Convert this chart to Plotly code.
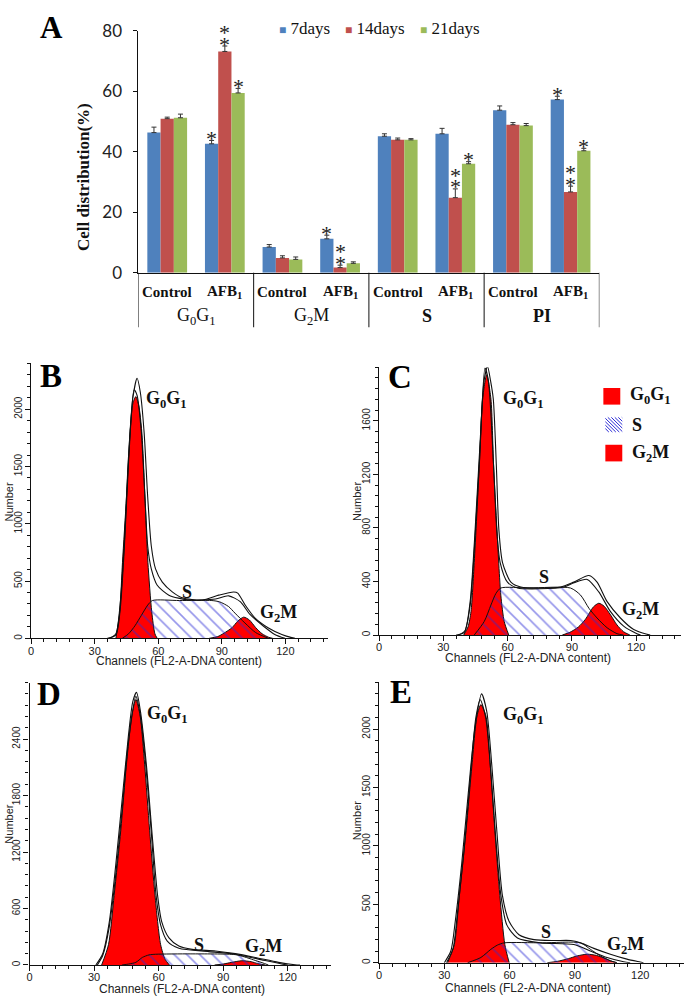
import plotly.graph_objects as go

W, H = 685, 1007
def fx(p): return p / W
def fy(p): return 1 - p / H

SERIF = "Liberation Serif"
SANS = "Liberation Sans"

# ---------------- Panel A data ----------------
sub_labels = ["Control", "AFB<sub>1</sub>", "Control", "AFB<sub>1</sub>",
              "Control", "AFB<sub>1</sub>", "Control", "AFB<sub>1</sub>"]
group_labels = ["G<sub>0</sub>G<sub>1</sub>", "G<sub>2</sub>M", "<b>S</b>", "<b>PI</b>"]
series_names = ["7days", "14days", "21days"]
series_colors = ["#4F81BD", "#C0504D", "#9BBB59"]
vals_7 = [46.3, 42.6, 8.5, 11.2, 45.1, 45.9, 53.7, 57.2]
vals_14 = [50.9, 73.1, 4.9, 1.7, 43.9, 24.8, 48.9, 26.7]
vals_21 = [51.2, 59.4, 4.4, 3.1, 43.9, 36.0, 48.6, 40.3]
err_7 = [1.8, 1.1, 0.8, 1.2, 0.8, 1.8, 1.4, 1.1]
err_14 = [0.5, 1.8, 0.7, 0.8, 0.6, 2.9, 0.7, 1.9]
err_21 = [1.2, 1.5, 0.8, 0.5, 0.4, 0.7, 0.7, 0.8]
sig_7 = ["", "*", "", "*", "", "", "", "*"]
sig_14 = ["", "**", "", "**", "", "**", "", "**"]
sig_21 = ["", "*", "", "", "", "*", "", "*"]
y_ticks_A = [0, 20, 40, 60, 80]

# ---------------- Histogram data (channel, count) ----------------
# Panel B
b_g1_ch = [40, 41.8, 43.1, 45, 46.7, 48, 49.4, 50.8, 52.2, 53.7, 55.1, 56.9, 58.4, 59.5]
b_g1_n = [0, 234, 663, 1234, 1805, 2050, 2110, 2030, 1805, 1234, 663, 234, 40, 0]
b_s_ch = [43, 46, 49, 52, 55, 57.2, 70, 85.3, 89, 93.2, 96.2, 100.9, 106, 112]
b_s_n = [0, 40, 110, 200, 290, 330, 330, 330, 318, 277, 220, 134, 50, 0]
b_g2_ch = [84, 88, 91, 94.8, 97.5, 100.3, 103, 106, 109, 112, 114]
b_g2_n = [0, 15, 45, 93, 150, 185, 160, 93, 40, 10, 0]
b_t1_ch = [36, 40, 42, 44, 46, 48, 50, 51.5, 53.3, 55, 56.7, 58.7, 61.9, 66.6, 71.3, 80.7, 88.5, 95.6, 97.5, 101, 105.7, 112, 118.3, 123, 124.5]
b_t1_n = [0, 30, 250, 800, 1550, 2100, 2270, 2150, 1800, 1234, 806, 606, 491, 406, 354, 334, 377, 405, 395, 291, 177, 91, 34, 6, 0]
b_t2_ch = [37, 40, 42, 44, 46, 48.6, 50, 52, 53.7, 55, 56.7, 59.5, 65, 74.4, 87, 93.2, 98.7, 103.4, 109.7, 115, 119.8]
b_t2_n = [0, 40, 300, 850, 1600, 2170, 2120, 1800, 1234, 806, 606, 463, 377, 334, 343, 371, 320, 206, 106, 34, 0]
b_yticks = [0, 500, 1000, 1500, 2000]

# Panel C
c_g1_ch = [39.5, 41.5, 42.9, 44.4, 46.8, 48.3, 50.2, 52.2, 53.4, 55, 56.8, 58.4, 60.5]
c_g1_n = [0, 60, 176, 541, 1273, 1761, 1944, 1761, 1273, 785, 298, 100, 0]
c_s_ch = [44.4, 49.1, 52.2, 54.5, 56.8, 70, 89.3, 94, 97.9, 101.7, 106.4, 111, 114]
c_s_n = [0, 102, 224, 310, 351, 351, 351, 298, 200, 127, 54, 10, 0]
c_g2_ch = [85.5, 89, 93, 96.3, 100, 102.5, 105, 108, 111, 114, 117]
c_g2_n = [0, 20, 60, 118, 210, 237, 215, 150, 75, 25, 0]
c_t1_ch = [36, 39.8, 42.5, 44.5, 47, 49, 50.6, 52, 53.3, 54.7, 55.9, 57.6, 61.5, 66.1, 75.4, 84.7, 90.9, 97.9, 101.7, 106.4, 112.6, 118.8, 125, 126.5]
c_t1_n = [0, 20, 250, 700, 1400, 1900, 2005, 1900, 1761, 1273, 785, 541, 395, 358, 351, 358, 395, 444, 395, 249, 127, 41, 5, 0]
c_t2_ch = [37, 40, 42.5, 44.5, 47, 49.4, 51, 53.4, 54.9, 56.5, 59.9, 64.6, 75, 86.2, 91, 97.1, 102.5, 107.9, 114.1, 120.3, 122]
c_t2_n = [0, 30, 220, 650, 1350, 1993, 1900, 1273, 785, 541, 395, 351, 345, 358, 390, 415, 322, 176, 66, 10, 0]
c_yticks = [0, 400, 800, 1200, 1600]

# Panel D
d_g1_ch = [33.5, 36.7, 39.3, 42.4, 45, 47.5, 49.4, 51.4, 53.5, 55.8, 58.3, 60.9, 63, 65]
d_g1_n = [0, 218, 739, 1432, 2126, 2646, 2820, 2646, 2126, 1432, 739, 218, 60, 0]
d_s_ch = [43, 46, 49.4, 52.4, 55.5, 58.6, 75, 95.6, 100, 104, 108, 111]
d_s_n = [0, 10, 28, 80, 107, 114, 118, 110, 85, 55, 25, 0]
d_g2_ch = [86, 90, 94, 98.7, 103, 106, 109.5]
d_g2_n = [0, 10, 28, 45, 35, 15, 0]
d_t1_ch = [30.8, 34, 37, 40, 43, 46, 48, 49.7, 51.5, 54.3, 56.8, 59.5, 61.4, 64.8, 69.4, 75.6, 86.4, 95.6, 104.9, 115.7, 123.4, 125.7]
d_t1_n = [0, 120, 450, 1050, 1750, 2450, 2800, 2896, 2700, 2126, 1432, 739, 461, 288, 201, 166, 149, 121, 80, 28, 3, 0]
d_t2_ch = [31.5, 34, 37, 40, 43, 46, 49.4, 51.5, 54, 56.5, 58.8, 60.9, 64, 69.4, 83.3, 95.6, 106.4, 117.2, 120]
d_t2_n = [0, 100, 400, 950, 1650, 2380, 2854, 2650, 2126, 1432, 739, 426, 253, 177, 142, 114, 62, 10, 0]
d_yticks = [0, 600, 1200, 1800, 2400]

# Panel E
e_g1_ch = [31.5, 34.6, 36.9, 40, 42.7, 45, 46.8, 49.1, 51.1, 53.2, 55.5, 57.8, 59.8]
e_g1_n = [0, 156, 575, 1134, 1693, 2112, 2209, 2112, 1693, 1134, 575, 156, 0]
e_s_ch = [40.7, 46.8, 51.4, 54.4, 57.5, 75, 92.6, 97.1, 101.7, 106.3, 109.3]
e_s_n = [0, 45, 115, 151, 170, 170, 170, 115, 59, 17, 0]
e_g2_ch = [77.3, 82, 87, 91, 95.6, 100, 104, 107, 109.3]
e_g2_n = [0, 12, 35, 58, 73, 62, 35, 12, 0]
e_t1_ch = [30, 33, 35, 38, 41, 44, 47.1, 49.5, 51.8, 54.1, 56.7, 59.8, 64.3, 71.2, 80.4, 88, 92.6, 98.7, 106.3, 113.9, 120, 121.5]
e_t1_n = [0, 100, 350, 850, 1450, 2000, 2301, 2150, 1693, 1134, 575, 352, 240, 198, 190, 190, 170, 123, 73, 31, 6, 0]
e_t2_ch = [31, 34, 36, 39, 42, 44.5, 46.5, 49, 51.5, 53.5, 56, 58.7, 63.6, 74.3, 89.5, 97.1, 104.8, 112.4, 115.4]
e_t2_n = [0, 120, 420, 950, 1600, 2100, 2251, 2100, 1600, 1100, 575, 324, 212, 170, 156, 100, 45, 8, 0]
e_yticks = [0, 500, 1000, 1500, 2000]

x_ticks_hist = [0, 30, 60, 90, 120]

fig = go.Figure()

# ---------------- Panel A ----------------
BARGAP = 0.31
bar_w = (1 - BARGAP) / 3
xpos = list(range(len(sub_labels)))
all_vals = [vals_7, vals_14, vals_21]
all_errs = [err_7, err_14, err_21]
all_sigs = [sig_7, sig_14, sig_21]
for i in range(3):
    fig.add_trace(go.Bar(
        x=xpos, y=all_vals[i], name=series_names[i], marker_color=series_colors[i],
        marker_line_width=0, showlegend=False, xaxis="x", yaxis="y",
        error_y=dict(type="data", array=all_errs[i], arrayminus=[0] * 8, symmetric=False,
                     color="#333333", thickness=1, width=2.5)))

annotations = []
shapes = []

for i in range(3):
    for j, s in enumerate(all_sigs[i]):
        for k in range(len(s)):
            annotations.append(dict(
                x=xpos[j] + (i - 1) * bar_w, y=all_vals[i][j] + all_errs[i][j],
                xref="x", yref="y", text="*", showarrow=False,
                font=dict(family=SERIF, size=22, color="#222"),
                xanchor="center", yanchor="middle", yshift=2 + 11.5 * k))

# sub-category and group labels
for j, lab in enumerate(sub_labels):
    annotations.append(dict(x=xpos[j], y=fy(287), xref="x", yref="paper", text="<b>%s</b>" % lab,
                            showarrow=False, font=dict(family=SERIF, size=15, color="#111"),
                            xanchor="center", yanchor="middle"))
for g, lab in enumerate(group_labels):
    annotations.append(dict(x=2 * g + 0.5, y=fy(312), xref="x", yref="paper", text=lab,
                            showarrow=False, font=dict(family=SERIF, size=18, color="#111"),
                            xanchor="center", yanchor="middle"))
# category separators below axis
for xs in [-0.5, 1.5, 3.5, 5.5, 7.5]:
    shapes.append(dict(type="line", xref="x", yref="paper", x0=xs, x1=xs,
                       y0=fy(323), y1=fy(267.3), line=dict(color="#111", width=1)))

# legend of A
leg_x = [275, 341, 417]
for i in range(3):
    annotations.append(dict(
        x=fx(leg_x[i]), y=fy(18), xref="paper", yref="paper", xanchor="left", yanchor="middle",
        text="<span style='font-size:12px;color:%s'>■</span> %s" % (series_colors[i], series_names[i]),
        showarrow=False, font=dict(family=SERIF, size=17, color="#111")))

annotations.append(dict(x=fx(81), y=fy(170), xref="paper", yref="paper", text="<b>Cell distribution(%)</b>",
                        textangle=-90, showarrow=False, font=dict(family=SERIF, size=17, color="#111"),
                        xanchor="center", yanchor="middle"))

# ---------------- Histogram panels ----------------
panels = [
    dict(letter="B", xd=(28.3, 326.2), yd=(640.7, 359.9), xmax=140, ymax=2400, yt_vals=b_yticks, ymn=100,
         g1=(b_g1_ch, b_g1_n), s=(b_s_ch, b_s_n), g2=(b_g2_ch, b_g2_n), t1=(b_t1_ch, b_t1_n), t2=(b_t2_ch, b_t2_n),
         let=(48.5, 372.5), lg1=(164, 397), ls=(185, 593), lg2=(277, 615), xt=(177, 664), yt=(6, 501)),
    dict(letter="C", xd=(377.7, 681.3), yd=(637.3, 363.8), xmax=141, ymax=2000, yt_vals=c_yticks, ymn=80,
         g1=(c_g1_ch, c_g1_n), s=(c_s_ch, c_s_n), g2=(c_g2_ch, c_g2_n), t1=(c_t1_ch, c_t1_n), t2=(c_t2_ch, c_t2_n),
         let=(399, 374), lg1=(523, 397), ls=(543, 578), lg2=(640, 612), xt=(527, 661), yt=(355, 501)),
    dict(letter="D", xd=(26.7, 329.2), yd=(974.3, 685.9), xmax=140, ymax=3000, yt_vals=d_yticks, ymn=120,
         g1=(d_g1_ch, d_g1_n), s=(d_s_ch, d_s_n), g2=(d_g2_ch, d_g2_n), t1=(d_t1_ch, d_t1_n), t2=(d_t2_ch, d_t2_n),
         let=(46, 698), lg1=(165, 718), ls=(197, 954), lg2=(262, 956), xt=(180, 999), yt=(6, 830)),
    dict(letter="E", xd=(377.7, 683.7), yd=(972, 685.6), xmax=140, ymax=2400, yt_vals=e_yticks, ymn=100,
         g1=(e_g1_ch, e_g1_n), s=(e_s_ch, e_s_n), g2=(e_g2_ch, e_g2_n), t1=(e_t1_ch, e_t1_n), t2=(e_t2_ch, e_t2_n),
         let=(400, 696), lg1=(523, 719), ls=(545, 941), lg2=(625, 954), xt=(527, 998), yt=(355, 827)),
]

layout_axes = {}
HATCH_COLOR = "#2b2bd6"
hatch = dict(shape="\\", fgcolor=HATCH_COLOR, bgcolor="rgba(0,0,0,0)", size=9, solidity=0.18)
for n, p in enumerate(panels):
    k = n + 2
    xa, ya = "x%d" % k, "y%d" % k
    line = dict(color="#111", width=1, shape="spline", smoothing=0.7)
    fig.add_trace(go.Scatter(x=p["g1"][0], y=p["g1"][1], mode="lines", line=line, fill="tozeroy",
                             fillcolor="#FF0000", showlegend=False, xaxis=xa, yaxis=ya, name="G0G1"))
    fig.add_trace(go.Scatter(x=p["g2"][0], y=p["g2"][1], mode="lines", line=line, fill="tozeroy",
                             fillcolor="#FF0000", showlegend=False, xaxis=xa, yaxis=ya, name="G2M"))
    fig.add_trace(go.Scatter(x=p["s"][0], y=p["s"][1], mode="lines", line=line, fill="tozeroy",
                             fillcolor="rgba(0,0,0,0)", fillpattern=hatch, showlegend=False,
                             xaxis=xa, yaxis=ya, name="S"))
    for t in ("t1", "t2"):
        fig.add_trace(go.Scatter(x=p[t][0], y=p[t][1], mode="lines",
                                 line=dict(color="#111", width=1.1, shape="spline", smoothing=0.7),
                                 showlegend=False, xaxis=xa, yaxis=ya))
    layout_axes["xaxis%d" % k] = dict(
        domain=[fx(p["xd"][0]), fx(p["xd"][1])], anchor=ya, range=[0, p["xmax"]],
        tickvals=x_ticks_hist, ticks="outside", ticklen=5, tickwidth=1, tickcolor="#111",
        showline=True, linecolor="#111", linewidth=1.3, showgrid=False, zeroline=False,
        minor=dict(dtick=6, tick0=0, ticklen=3, ticks="outside", tickcolor="#111", showgrid=False),
        tickfont=dict(family=SANS, size=11, color="#222"), ticklabelstandoff=-3)
    layout_axes["yaxis%d" % k] = dict(
        domain=[fy(p["yd"][0]), fy(p["yd"][1])], anchor=xa, range=[0, p["ymax"]],
        tickvals=p["yt_vals"], ticks="outside", ticklen=5, tickwidth=1, tickcolor="#111",
        showline=True, linecolor="#111", linewidth=1.3, showgrid=False, zeroline=False,
        minor=dict(dtick=p["ymn"], tick0=0, ticklen=3, ticks="outside", tickcolor="#111", showgrid=False),
        tickangle=-90, tickfont=dict(family=SANS, size=10, color="#222"), ticklabelstandoff=-1)
    # labels
    annotations.append(dict(x=fx(p["let"][0]), y=fy(p["let"][1]), xref="paper", yref="paper",
                            text="<b>%s</b>" % p["letter"], showarrow=False,
                            font=dict(family=SERIF, size=33, color="#000"), xanchor="center", yanchor="middle"))
    for key, txt in (("lg1", "<b>G<sub>0</sub>G<sub>1</sub></b>"), ("ls", "<b>S</b>"), ("lg2", "<b>G<sub>2</sub>M</b>")):
        annotations.append(dict(x=fx(p[key][0]), y=fy(p[key][1]), xref="paper", yref="paper", text=txt,
                                showarrow=False, font=dict(family=SERIF, size=18, color="#111"),
                                xanchor="center", yanchor="middle"))
    annotations.append(dict(x=fx(p["xt"][0]), y=fy(p["xt"][1]), xref="paper", yref="paper",
                            text="Channels (FL2-A-DNA content)", showarrow=False,
                            font=dict(family=SANS, size=12, color="#222"), xanchor="center", yanchor="middle"))
    annotations.append(dict(x=fx(p["yt"][0]), y=fy(p["yt"][1]), xref="paper", yref="paper",
                            text="Number", textangle=-90, showarrow=False,
                            font=dict(family=SANS, size=11, color="#222"), xanchor="center", yanchor="middle"))

# legend inside panel C
leg_items = [((603, 385, 620, 402), "<b>G<sub>0</sub>G<sub>1</sub></b>", 628, 393, True),
             ((605, 415, 622, 430), "<b>S</b>", 630, 423, False),
             ((605, 443, 622, 460), "<b>G<sub>2</sub>M</b>", 630, 452, True)]
for (x0, y0, x1, y1), txt, tx, ty, solid in leg_items:
    if solid:
        shapes.append(dict(type="rect", xref="paper", yref="paper", x0=fx(x0), x1=fx(x1), y0=fy(y1), y1=fy(y0),
                           fillcolor="#FF0000", line=dict(width=0)))
    else:
        w, h = x1 - x0, y1 - y0
        segs = []
        c = -h
        while c < w:
            s0, s1 = max(0, -c), min(h, w - c)
            if s1 > s0:
                segs.append("M%.5f,%.5f L%.5f,%.5f" % (fx(x0 + c + s0), fy(y0 + s0), fx(x0 + c + s1), fy(y0 + s1)))
            c += 3.5
        shapes.append(dict(type="path", xref="paper", yref="paper", path=" ".join(segs),
                           line=dict(color=HATCH_COLOR, width=1)))
    annotations.append(dict(x=fx(tx), y=fy(ty), xref="paper", yref="paper", text=txt, showarrow=False,
                            font=dict(family=SERIF, size=18, color="#111"), xanchor="left", yanchor="middle"))

annotations.append(dict(x=fx(49), y=fy(17), xref="paper", yref="paper", text="<b>A</b>", showarrow=False,
                        font=dict(family=SERIF, size=31, color="#000"), xanchor="center", yanchor="middle"))

fig.update_layout(
    width=W, height=H, margin=dict(l=0, r=0, t=0, b=0),
    paper_bgcolor="white", plot_bgcolor="rgba(0,0,0,0)",
    barmode="group", bargap=BARGAP, bargroupgap=0,
    xaxis=dict(domain=[fx(136), fx(599)], anchor="y", range=[-0.5, 7.5], showticklabels=False,
               ticks="", showline=True, linecolor="#111", linewidth=1, showgrid=False, zeroline=False),
    yaxis=dict(domain=[fy(267.3), fy(20)], anchor="x", range=[0, 80], tickvals=y_ticks_A,
               ticks="outside", ticklen=4, tickcolor="#111", showline=True, linecolor="#111", linewidth=1,
               showgrid=False, zeroline=False, tickfont=dict(family="Lato", size=17, color="#222"),
               ticklabelstandoff=8),
    annotations=annotations, shapes=shapes,
    **layout_axes)

PAGE_JS = (
    "document.documentElement.style.margin='0';document.documentElement.style.overflow='hidden';"
    "document.documentElement.style.height='%dpx';"
    "document.body.style.margin='0';document.body.style.padding='0';document.body.style.overflow='hidden';"
    "document.body.style.height='%dpx';"
    "var gd=document.getElementById('{plot_id}');gd.style.position='fixed';gd.style.left='0px';gd.style.top='0px';"
) % (H, H)
fig.write_html("out.html", post_script=PAGE_JS, config={"displayModeBar": False})
